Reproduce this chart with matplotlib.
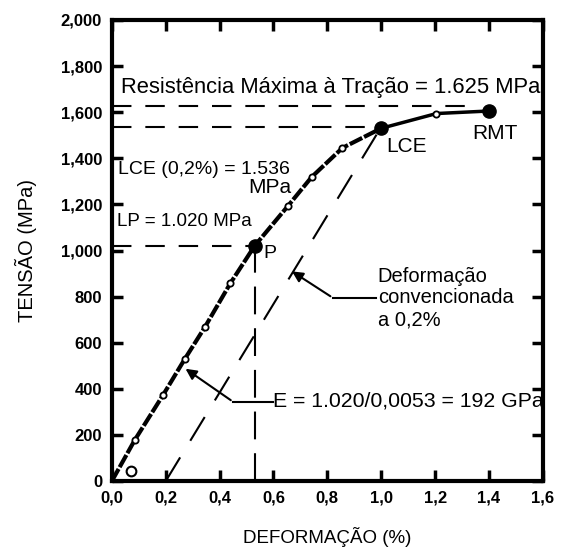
import matplotlib
matplotlib.use('Agg')
import matplotlib.pyplot as plt

plt.rcParams['font.family'] = ['Liberation Sans', 'DejaVu Sans']
plt.rcParams['lines.scale_dashes'] = False

# Curva tensão-deformação
strain = [0.0, 0.085, 0.19, 0.27, 0.345, 0.44, 0.53, 0.655, 0.742, 0.856, 1.0, 1.205, 1.40]
stress = [0, 178, 373, 528, 667, 858, 1020, 1195, 1319, 1445, 1530, 1594, 1605]
small_pts = [1, 2, 3, 4, 5, 7, 8, 9, 11]   # circulos pequenos
big_pts = [6, 10, 12]                      # P, LCE, RMT
origin_mark = (0.07, 45)

lp = 1020
lce = 1536
rmt = 1625
offset = 0.2
modulus = 1920  # MPa por %

xticks = [0.0, 0.2, 0.4, 0.6, 0.8, 1.0, 1.2, 1.4, 1.6]
xlabels = ['0,0', '0,2', '0,4', '0,6', '0,8', '1,0', '1,2', '1,4', '1,6']
yticks = [0, 200, 400, 600, 800, 1000, 1200, 1400, 1600, 1800, 2000]
ylabels = ['0', '200', '400', '600', '800', '1,000', '1,200', '1,400', '1,600', '1,800', '2,000']

fig = plt.figure(figsize=(5.62, 5.53), dpi=100)
ax = fig.add_axes([0.199, 0.13, 0.767, 0.834])

# linhas auxiliares tracejadas
ax.plot([0, 1.32], [rmt, rmt], color='black', lw=1.5, dashes=(14, 10))
ax.plot([0, strain[10]], [lce, lce], color='black', lw=1.5, dashes=(14, 10))
ax.plot([0, strain[6]], [lp, lp], color='black', lw=1.5, dashes=(14, 10))
ax.plot([strain[6], strain[6]], [0, lp], color='black', lw=1.5, dashes=(20, 10))
ax.plot([offset, offset + lce / modulus], [0, lce], color='black', lw=1.5, dashes=(20, 14))

# curva
ax.plot(strain[:11], stress[:11], color='black', lw=3, dashes=(10, 1.5))
ax.plot(strain[10:], stress[10:], color='black', lw=2.5)
ax.plot([strain[i] for i in small_pts], [stress[i] for i in small_pts], 'o',
        ms=4.5, mfc='white', mec='black', mew=1.3)
ax.plot([strain[i] for i in big_pts], [stress[i] for i in big_pts], 'o',
        ms=9.5, color='black')
ax.plot(*origin_mark, 'o', ms=7, mfc='white', mec='black', mew=1.5)

# textos
ax.text(0.033, 1706, 'Resistência Máxima à Tração = 1.625 MPa', fontsize=15.8, ha='left', va='center')
ax.text(0.022, 1350, 'LCE (0,2%) = 1.536', fontsize=14, ha='left', va='center')
ax.text(0.668, 1272, 'MPa', fontsize=15, ha='right', va='center')
ax.text(0.019, 1125, 'LP = 1.020 MPa', fontsize=13.5, ha='left', va='center')
ax.text(0.564, 985, 'P', fontsize=14, ha='left', va='center')
ax.text(1.02, 1450, 'LCE', fontsize=15, ha='left', va='center')
ax.text(1.336, 1507, 'RMT', fontsize=15, ha='left', va='center')
ax.text(0.60, 347, 'E = 1.020/0,0053 = 192 GPa', fontsize=15.3, ha='left', va='center')
ax.text(0.987, 886, 'Deformação', fontsize=14.5, ha='left', va='center')
ax.text(0.987, 795, 'convencionada', fontsize=14.5, ha='left', va='center')
ax.text(0.987, 699, 'a 0,2%', fontsize=14.5, ha='left', va='center')

# setas
ax.plot([0.45, 0.60], [344, 344], color='black', lw=1.5)
ax.annotate('', xy=(0.265, 494), xytext=(0.45, 344),
            arrowprops=dict(arrowstyle='-|>', lw=1.5, color='black', mutation_scale=16))
ax.plot([0.82, 0.98], [795, 795], color='black', lw=1.5)
ax.annotate('', xy=(0.66, 916), xytext=(0.82, 795),
            arrowprops=dict(arrowstyle='-|>', lw=1.5, color='black', mutation_scale=16))

ax.set_xlim(0, 1.6)
ax.set_ylim(0, 2000)
ax.set_xticks(xticks)
ax.set_xticklabels(xlabels, fontweight='bold', fontsize=12)
ax.set_yticks(yticks)
ax.set_yticklabels(ylabels, fontweight='bold', fontsize=12)
ax.tick_params(direction='in', length=8, width=2.5, top=True, right=True, pad=7)
for s in ax.spines.values():
    s.set_linewidth(3)

ax.set_xlabel('DEFORMAÇÃO (%)', fontsize=13.5, labelpad=15)
ax.set_ylabel('TENSÃO (MPa)', fontsize=14.5, labelpad=17)

fig.savefig('out.png', dpi=100)
